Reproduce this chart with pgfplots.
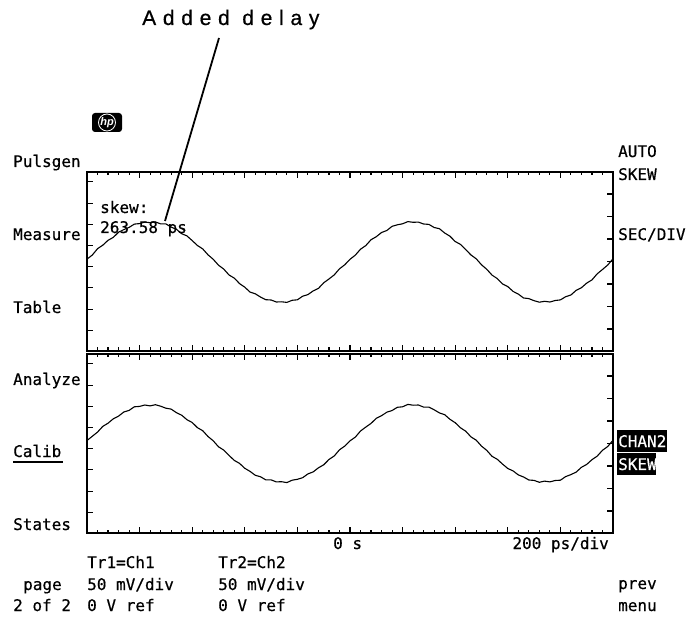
\documentclass[border=0pt]{standalone}
\usepackage{pgfplots}
\pgfplotsset{compat=1.18}
\usepackage{fontspec}
\setmainfont{DejaVu Sans Mono}[FakeBold=0.5]
\newfontfamily\arialfont{Liberation Sans}[LetterSpace=32, FakeBold=0.6]
\newfontfamily\logofont{Liberation Sans}
\begin{document}
\begin{tikzpicture}
\pgfplotsset{
  panel/.style={
    scale only axis, width=526pt, height=179pt,
    xmin=0, xmax=10, ymin=0, ymax=179,
    axis line style={line width=1.4pt},
    tick style={black, line width=1.1pt},
    major tick length=6pt, minor tick length=3.5pt,
    tick align=inside,
    xtick={0,1,...,10}, minor x tick num=4,
    xticklabels={}, yticklabels={},
    clip=false,
  },
  lefty/.style={ytick pos=left, ytick={20.7,41.9,63.1,84.3,105.5,126.7,147.9,169.1}},
  righty/.style={ytick pos=right, ytick={22,44.5,67,89.5,112,134.5,157}, xtick=\empty, minor x tick num=0},
}
\path[use as bounding box, fill=white] (0pt,0pt) rectangle (686pt,-620pt);

% top panel
\begin{axis}[panel, lefty, at={(87pt,-351pt)}, anchor=south west]
\addplot[black, line width=1.1pt] coordinates {
(0,91.9)(0.1,95.9)(0.2,102.3)(0.3,105.8)(0.4,110.7)(0.5,113.6)(0.6,118.8)(0.7,121.4)(0.8,123.6)(0.9,126.9)
(1,127.4)(1.1,128.9)(1.2,128.3)(1.3,129.1)(1.4,127.1)(1.5,127.1)(1.6,123.9)(1.7,121.7)(1.8,117.3)(1.9,115.1)
(2,110.4)(2.1,105.5)(2.2,102.1)(2.3,96.2)(2.4,91.7)(2.5,85.8)(2.6,81.9)(2.7,76.0)(2.8,72.9)(2.9,67.4)
(3,63.8)(3.1,58.9)(3.2,57.2)(3.3,53.9)(3.4,51.3)(3.5,51.0)(3.6,49.0)(3.7,49.2)(3.8,48.6)(3.9,50.7)
(4,51.2)(4.1,54.8)(4.2,56.4)(4.3,60.1)(4.4,62.6)(4.5,68.2)(4.6,72.0)(4.7,76.1)(4.8,82.2)(4.9,86.2)
(5,91.7)(5.1,95.8)(5.2,101.8)(5.3,105.4)(5.4,111.3)(5.5,114.3)(5.6,118.5)(5.7,120.5)(5.8,124.7)(5.9,126.2)
(6,127.2)(6.1,129.4)(6.2,128.7)(6.3,128.9)(6.4,127.0)(6.5,126.6)(6.6,123.5)(6.7,122.3)(6.8,118.0)(6.9,114.8)
(7,109.5)(7.1,106.6)(7.2,101.4)(7.3,96.0)(7.4,92.2)(7.5,86.2)(7.6,81.7)(7.7,75.9)(7.8,72.4)(7.9,67.0)
(8,64.4)(8.1,59.6)(8.2,56.9)(8.3,53.0)(8.4,52.4)(8.5,50.3)(8.6,48.8)(8.7,49.7)(8.8,49.0)(8.9,50.5)
(9,51.1)(9.1,54.3)(9.2,56.0)(9.3,60.7)(9.4,63.3)(9.5,67.9)(9.6,71.1)(9.7,77.2)(9.8,81.5)(9.9,86.0)(10,92.2)
};
\end{axis}
\begin{axis}[panel, righty, at={(87pt,-351pt)}, anchor=south west]
\addplot[draw=none] coordinates {(0,0)};
\end{axis}

% bottom panel
\begin{axis}[panel, lefty, at={(87pt,-533pt)}, anchor=south west]
\addplot[black, line width=1.1pt] coordinates {
(0,92.5)(0.1,96.7)(0.2,100.9)(0.3,106.6)(0.4,109.8)(0.5,114.2)(0.6,116.9)(0.7,121.0)(0.8,122.6)(0.9,126.2)
(1,126.6)(1.1,128.0)(1.2,127.1)(1.3,128.3)(1.4,126.8)(1.5,124.8)(1.6,123.9)(1.7,120.3)(1.8,117.8)(1.9,113.3)
(2,110.5)(2.1,105.3)(2.2,102.3)(2.3,96.5)(2.4,92.2)(2.5,86.2)(2.6,82.9)(2.7,77.6)(2.8,72.6)(2.9,69.6)
(3,64.7)(3.1,61.6)(3.2,57.7)(3.3,56.2)(3.4,53.1)(3.5,53.1)(3.6,51.1)(3.7,51.3)(3.8,50.4)(3.9,52.8)
(4,53.7)(4.1,55.3)(4.2,59.1)(4.3,61.1)(4.4,65.2)(4.5,68.2)(4.6,73.5)(4.7,77.0)(4.8,83.2)(4.9,86.9)
(5,92.2)(5.1,95.8)(5.2,102.0)(5.3,105.9)(5.4,109.6)(5.5,114.7)(5.6,117.3)(5.7,120.8)(5.8,122.5)(5.9,125.7)
(6,126.2)(6.1,128.6)(6.2,127.8)(6.3,128.0)(6.4,125.9)(6.5,125.9)(6.6,123.2)(6.7,120.1)(6.8,118.3)(6.9,113.7)
(7,110.3)(7.1,105.2)(7.2,101.8)(7.3,96.1)(7.4,92.8)(7.5,86.9)(7.6,82.6)(7.7,76.7)(7.8,73.7)(7.9,68.9)
(8,64.5)(8.1,62.1)(8.2,58.1)(8.3,56.0)(8.4,53.0)(8.5,52.6)(8.6,50.7)(8.7,51.9)(8.8,51.1)(8.9,52.5)
(9,52.8)(9.1,56.4)(9.2,58.4)(9.3,60.9)(9.4,65.7)(9.5,68.6)(9.6,73.3)(9.7,76.9)(9.8,82.7)(9.9,86.5)(10,92.8)
};
\end{axis}
\begin{axis}[panel, righty, at={(87pt,-533pt)}, anchor=south west]
\addplot[draw=none] coordinates {(0,0)};
\end{axis}

\begin{scope}[x=1pt, y=-1pt, every node/.style={inner sep=0pt, font=\fontsize{16}{16}\selectfont}]
% title and leader
\node[anchor=base west, font=\arialfont\fontsize{21}{21}\selectfont] at (142,25) {Added delay};
\draw[line width=1.8pt] (219,38) -- (165,221);
% hp logo
\fill[black, rounded corners=3pt] (92,113) rectangle (122,132);
\draw[white, line width=0.8pt] (107,122.5) ellipse (8.5 and 8.5);
\node[text=white, font=\logofont\itshape\bfseries\fontsize{11}{11}\selectfont] at (107,122.5) {hp};
% left menu
\node[anchor=base west] at (13,167) {Pulsgen};
\node[anchor=base west] at (13,240) {Measure};
\node[anchor=base west] at (13,313) {Table};
\node[anchor=base west] at (13,385) {Analyze};
\node[anchor=base west] at (13,457) {Calib};
\draw[line width=1.5pt] (13,462) -- (63,462);
\node[anchor=base west] at (13,530) {States};
% right menu
\node[anchor=base west] at (618,157) {AUTO};
\node[anchor=base west] at (618,180) {SKEW};
\node[anchor=base west] at (618,240) {SEC/DIV};
\fill[black] (617,430) rectangle (667,452);
\node[anchor=base west, text=white] at (618,447) {CHAN2};
\fill[black] (617,453) rectangle (656,475);
\node[anchor=base west, text=white] at (618,470) {SKEW};
\node[anchor=base west] at (618,589) {prev};
\node[anchor=base west] at (618,611) {menu};
% in-screen readout
\node[anchor=base west] at (100,213) {skew:};
\node[anchor=base west] at (100,233) {263.58 ps};
% time axis labels
\node[anchor=base west] at (333,549) {0 s};
\node[anchor=base east] at (609,549) {200 ps/div};
% bottom status
\node[anchor=base west] at (87,568) {Tr1=Ch1};
\node[anchor=base west] at (218,568) {Tr2=Ch2};
\node[anchor=base west] at (23,590) {page};
\node[anchor=base west] at (87,590) {50 mV/div};
\node[anchor=base west] at (218,590) {50 mV/div};
\node[anchor=base west] at (13,611) {2 of 2};
\node[anchor=base west] at (87,611) {0 V ref};
\node[anchor=base west] at (218,611) {0 V ref};
\end{scope}
\end{tikzpicture}
\end{document}
